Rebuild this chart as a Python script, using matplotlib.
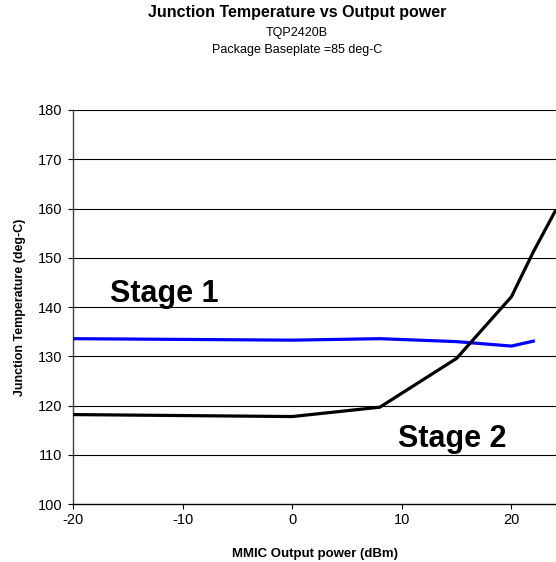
"""Junction temperature vs output power for the two amplifier stages
"""

import matplotlib
matplotlib.use('Agg')
import matplotlib.pyplot as plt

plt.rcParams['font.family'] = ['Liberation Sans', 'DejaVu Sans']
plt.rcParams['axes.unicode_minus'] = False

stage1_pout = [-20, 0, 8, 15, 20, 22]
stage1_tj = [133.6, 133.3, 133.6, 133.0, 132.1, 133.1]
stage2_pout = [-20, 0, 8, 15, 20, 22, 24]
stage2_tj = [118.2, 117.8, 119.7, 129.6, 142.1, 151.2, 159.5]
x_ticks = [-20, -10, 0, 10, 20]
y_ticks = [100, 110, 120, 130, 140, 150, 160, 170, 180]

fig = plt.figure(figsize=(5.56, 5.62), dpi=100)
ax = fig.add_axes([0.1313, 0.1027, 0.8687, 0.7016])

for y in y_ticks[1:]:
    ax.axhline(y, color='black', linewidth=0.8, zorder=1)

ax.plot(stage1_pout, stage1_tj, color='#0000ff', linewidth=2.3, zorder=3)
ax.plot(stage2_pout, stage2_tj, color='black', linewidth=2.3, zorder=3)

ax.set_xlim(-20, 24.07)
ax.set_ylim(100, 180)
ax.set_xticks(x_ticks)
ax.set_yticks(y_ticks)
ax.tick_params(direction='out', length=3.6, width=0.8, labelsize=10.5)
ax.tick_params(axis='x', pad=2.5)
ax.tick_params(axis='y', pad=4.3)
ax.spines['top'].set_visible(False)
ax.spines['right'].set_visible(False)
ax.spines['left'].set_color('#404040')
ax.spines['left'].set_linewidth(1.0)
ax.spines['bottom'].set_linewidth(1.0)

ax.set_xlabel('MMIC Output power (dBm)', fontsize=9.5, fontweight='bold', labelpad=15)
ax.set_ylabel('Junction Temperature (deg-C)', fontsize=9, fontweight='bold', labelpad=8)

ax.text(-16.6, 141.0, 'Stage 1', fontsize=22, fontweight='bold', ha='left', va='baseline')
ax.text(9.65, 111.7, 'Stage 2', fontsize=22, fontweight='bold', ha='left', va='baseline')

fig.text(0.534, 0.978, 'Junction Temperature vs Output power', fontsize=11.5,
         fontweight='bold', ha='center', va='center')
fig.text(0.534, 0.941, 'TQP2420B', fontsize=9, ha='center', va='center')
fig.text(0.534, 0.911, 'Package Baseplate =85 deg-C', fontsize=9, ha='center', va='center')

fig.savefig('out.png', dpi=100)
